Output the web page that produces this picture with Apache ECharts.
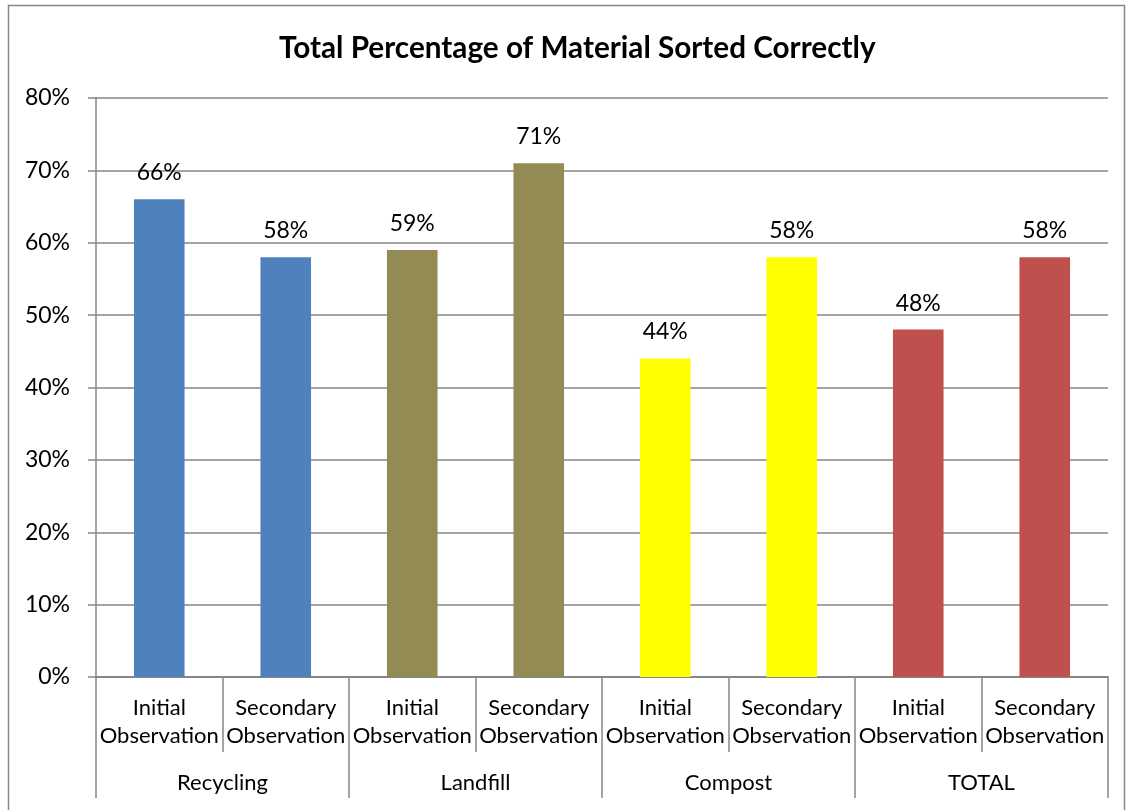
<!DOCTYPE html>
<html>
<head>
<meta charset="utf-8">
<script src="https://cdn.jsdelivr.net/npm/echarts@6/dist/echarts.min.js"></script>
<style>
  html, body { margin: 0; padding: 0; background: #fff; }
  #chart { width: 1126px; height: 810px; }
</style>
</head>
<body>
<div id="chart"></div>
<script>
// data
const observations = ['Initial\nObservation', 'Secondary\nObservation',
                      'Initial\nObservation', 'Secondary\nObservation',
                      'Initial\nObservation', 'Secondary\nObservation',
                      'Initial\nObservation', 'Secondary\nObservation']
const groups = ['Recycling', 'Landfill', 'Compost', 'TOTAL']
const percentCorrect = [66, 58, 59, 71, 44, 58, 48, 58]

// one colour per group, two bars each
const groupColors = ['#4f81bd', '#948a54', '#ffff00', '#c0504d']

const font = 'Lato, "Open Sans", sans-serif'
const lineGray = '#868686'

const chart = echarts.init(document.getElementById('chart'))

const option = {
    animation: false,
    textStyle: { fontFamily: font },
    title: {
        text: 'Total Percentage of Material Sorted Correctly',
        left: 274,
        top: 28,
        textStyle: { fontSize: 29.7, fontWeight: 'bold', color: '#000', fontFamily: font }
    },
    graphic: [{
        type: 'rect',
        shape: { x: 8.5, y: 5.5, width: 1116, height: 820 },
        style: { fill: 'none', stroke: lineGray, lineWidth: 1.5 }
    }],
    grid: { left: 96, right: 18, top: 98, bottom: 133 },
    xAxis: [
        {
            type: 'category',
            data: observations,
            position: 'bottom',
            axisLine: { lineStyle: { color: lineGray, width: 2 } },
            axisTick: { show: true, interval: 0, length: 75, lineStyle: { color: lineGray, width: 1.5 } },
            axisLabel: { interval: 0, margin: 17, fontSize: 22, lineHeight: 28, color: '#000', fontFamily: font }
        },
        {
            type: 'category',
            data: groups,
            position: 'bottom',
            axisLine: { show: false },
            axisTick: { show: true, interval: 0, length: 121, lineStyle: { color: lineGray, width: 1.5 } },
            axisLabel: { interval: 0, margin: 95, fontSize: 22, color: '#000', fontFamily: font }
        }
    ],
    yAxis: {
        type: 'value',
        min: 0,
        max: 80,
        interval: 10,
        axisLine: { show: true, lineStyle: { color: lineGray, width: 1.5 } },
        axisTick: { show: true, length: 8, lineStyle: { color: lineGray, width: 1.5 } },
        axisLabel: { formatter: '{value}%', margin: 26, fontSize: 23, color: '#000', fontFamily: font },
        splitLine: { lineStyle: { color: lineGray, width: 1.5 } }
    },
    series: [{
        type: 'bar',
        xAxisIndex: 0,
        data: percentCorrect,
        barWidth: '40%',
        itemStyle: {
            color: p => groupColors[Math.floor(p.dataIndex / 2)]
        },
        label: {
            show: true,
            position: 'top',
            distance: 15,
            formatter: '{c}%',
            fontSize: 23,
            color: '#000',
            fontFamily: font
        }
    }]
}

chart.setOption(option)
</script>
</body>
</html>
